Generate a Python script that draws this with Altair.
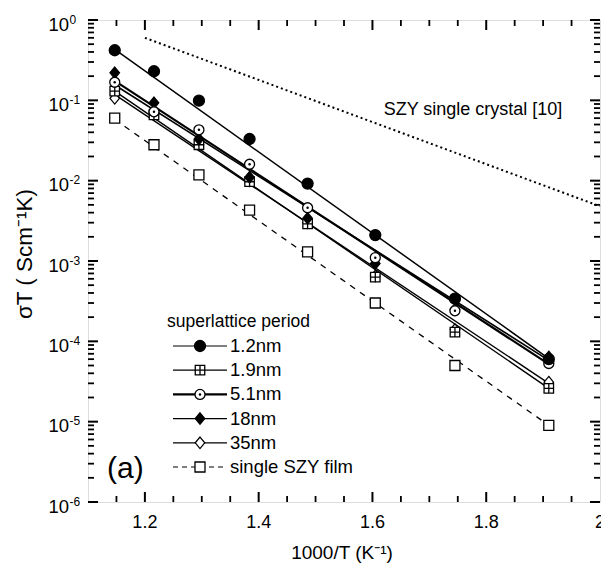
import altair as alt
import pandas as pd
import numpy as np

# 1000/T values (K^-1) at which conductivity was measured
inv_T = [1.147, 1.216, 1.295, 1.384, 1.486, 1.605, 1.745, 1.910]

series_names = ["1.2nm", "1.9nm", "5.1nm", "18nm", "35nm", "single SZY film"]

# sigma*T (S cm^-1 K) for each superlattice period and the single film
sig_1p2 = [0.42, 0.23, 0.099, 0.033, 0.0092, 0.0021, 3.4e-4, 6.0e-5]
sig_1p9 = [0.13, 0.066, 0.028, 0.0097, 0.0029, 6.3e-4, 1.3e-4, 2.6e-5]
sig_5p1 = [0.168, 0.072, 0.043, 0.016, 0.0046, 0.0011, 2.4e-4, 5.3e-5]
sig_18 = [0.22, 0.093, 0.033, 0.011, 0.0034, 0.00093, 2.5e-4, 6.4e-5]
sig_35 = [0.106, 0.067, 0.028, 0.0100, 0.0030, 6.5e-4, 1.4e-4, 3.1e-5]
sig_film = [0.060, 0.028, 0.0118, 0.0043, 0.0013, 3.0e-4, 5.0e-5, 9.0e-6]

# Arrhenius fit lines: values at the first and last 1000/T
fit_x = [1.147, 1.910]
fit_1p2 = [0.43, 6.1e-5]
fit_1p9 = [0.13, 2.6e-5]
fit_5p1 = [0.175, 5.2e-5]
fit_18 = [0.155, 5.8e-5]
fit_35 = [0.118, 3.0e-5]
fit_film = [0.058, 9.0e-6]

# SZY single crystal reference line [10]
crystal_x = [1.2, 2.0]
crystal_sigT = [0.60, 0.0048]

# axis labels
x_tick_values = [1.2, 1.4, 1.6, 1.8, 2.0]
x_tick_labels = ["1.2", "1.4", "1.6", "1.8", "2"]
y_tick_values = [1.0, 1e-1, 1e-2, 1e-3, 1e-4, 1e-5, 1e-6]
y_tick_exponents = ["0", "-1", "-2", "-3", "-4", "-5", "-6"]

W, H = 512, 482
FONT = "Liberation Sans"

xs = alt.Scale(domain=[1.1, 2.0], nice=False, zero=False)
ys = alt.Scale(type="log", domain=[1e-6, 1], nice=False)

def X(field="x"):
    return alt.X(f"{field}:Q", scale=xs, axis=None)

def Y(field="y"):
    return alt.Y(f"{field}:Q", scale=ys, axis=None)

point_values = [sig_1p2, sig_1p9, sig_5p1, sig_18, sig_35, sig_film]
fit_values = [fit_1p2, fit_1p9, fit_5p1, fit_18, fit_35, fit_film]

# marker styles
SQ_CROSS = "M-1,-1H1V1H-1Z M0,-1V1 M-1,0H1"
DIAMOND = "M0,-1.15L0.95,0L0,1.15L-0.95,0Z"
styles = {
    "1.2nm": dict(shape="circle", fill="black", size=121),
    "1.9nm": dict(shape=SQ_CROSS, fill="white", size=90),
    "5.1nm": dict(shape="circle", fill="white", size=100),
    "18nm": dict(shape=DIAMOND, fill="black", size=100),
    "35nm": dict(shape=DIAMOND, fill="white", size=100),
    "single SZY film": dict(shape="square", fill="white", size=100),
}
line_styles = {
    "1.2nm": dict(strokeWidth=1.5),
    "1.9nm": dict(strokeWidth=1.4),
    "5.1nm": dict(strokeWidth=2.2),
    "18nm": dict(strokeWidth=1.6),
    "35nm": dict(strokeWidth=1.4),
    "single SZY film": dict(strokeWidth=1.3, strokeDash=[6, 6]),
}

layers = []

# crystal reference (dotted)
crystal_df = pd.DataFrame({"x": crystal_x, "y": crystal_sigT})
layers.append(
    alt.Chart(crystal_df).mark_line(color="black", strokeWidth=2, strokeDash=[2, 3])
    .encode(x=X(), y=Y())
)

# fit lines
for name, fv in zip(series_names, fit_values):
    df = pd.DataFrame({"x": fit_x, "y": fv})
    layers.append(alt.Chart(df).mark_line(color="black", **line_styles[name]).encode(x=X(), y=Y()))

# measured points
draw_order = ["single SZY film", "35nm", "1.9nm", "18nm", "5.1nm", "1.2nm"]
for name in draw_order:
    vals = point_values[series_names.index(name)]
    st = styles[name]
    df = pd.DataFrame({"x": inv_T, "y": vals})
    layers.append(
        alt.Chart(df).mark_point(shape=st["shape"], filled=True, fill=st["fill"],
                                 stroke="black", strokeWidth=1.3, size=st["size"], opacity=1)
        .encode(x=X(), y=Y())
    )
    if name == "5.1nm":
        layers.append(
            alt.Chart(df).mark_point(shape="circle", filled=True, fill="black", size=6, opacity=1)
            .encode(x=X(), y=Y())
        )

# inward ticks on all four sides
x_minor = [round(v, 2) for v in np.arange(1.15, 2.0, 0.05) if round(v, 2) not in x_tick_values]
x_major = [1.2, 1.4, 1.6, 1.8]
y_major = [10.0 ** -k for k in range(0, 7)]
y_minor = [m * 10.0 ** d for d in range(-6, 0) for m in range(2, 10)]

def xticks(vals, length, width):
    df = pd.DataFrame({"v": vals})
    return [alt.Chart(df).mark_rule(color="black", strokeWidth=width)
            .encode(x=X("v"), y=alt.value(y0), y2=alt.value(y1))
            for y0, y1 in [(H, H - length), (0, length)]]

def yticks(vals, length, width):
    df = pd.DataFrame({"v": vals})
    return [alt.Chart(df).mark_rule(color="black", strokeWidth=width)
            .encode(y=Y("v"), x=alt.value(x0), x2=alt.value(x1))
            for x0, x1 in [(0, length), (W, W - length)]]

layers += xticks(x_major, 10, 2)
layers += xticks(x_minor, 6, 1.8)
layers += yticks(y_major, 10, 2)
layers += yticks(y_minor, 6, 1.8)

# tick labels
xl = pd.DataFrame({"v": x_tick_values, "t": x_tick_labels})
layers.append(alt.Chart(xl).mark_text(font=FONT, fontSize=18, align="center", baseline="alphabetic",
                                      color="black")
              .encode(x=X("v"), y=alt.value(H + 25.5), text="t:N"))
yl = pd.DataFrame({"v": y_tick_values, "e": y_tick_exponents, "b": ["10"] * len(y_tick_values)})
layers.append(alt.Chart(yl).mark_text(font=FONT, fontSize=18.5, align="right", baseline="alphabetic",
                                      color="black", dy=10.5)
              .encode(y=Y("v"), x=alt.value(-19), text="b:N"))
layers.append(alt.Chart(yl).mark_text(font=FONT, fontSize=12, align="left", baseline="alphabetic",
                                      color="black", dy=3.5)
              .encode(y=Y("v"), x=alt.value(-18.5), text="e:N"))

# axis titles
one = alt.Data(values=[{"t": 0}])
layers.append(alt.Chart(one).mark_text(text="1000/T (K⁻¹)", font=FONT, fontSize=19, align="center",
                                       baseline="alphabetic", color="black")
              .encode(x=alt.value(254), y=alt.value(H + 57)))
layers.append(alt.Chart(one).mark_text(text="σT (  Scm⁻¹K)", font=FONT, fontSize=22.5, align="center",
                                       baseline="middle", angle=270, color="black")
              .encode(x=alt.value(-63), y=alt.value(234)))

# annotations
layers.append(alt.Chart(one).mark_text(text="SZY single crystal [10]", font=FONT, fontSize=18,
                                       align="center", baseline="middle", color="black")
              .encode(x=alt.value(385), y=alt.value(90)))
layers.append(alt.Chart(one).mark_text(text="(a)", font=FONT, fontSize=30,
                                       align="left", baseline="middle", color="black")
              .encode(x=alt.value(19), y=alt.value(449)))

# legend
LX0, LX1, LXM, LXT = 85, 139, 112, 142
layers.append(alt.Chart(one).mark_text(text="superlattice period", font=FONT, fontSize=17.5,
                                       align="left", baseline="middle", color="black")
              .encode(x=alt.value(79), y=alt.value(302)))
for i, name in enumerate(series_names):
    yy = 326 + 24.2 * i
    st = styles[name]
    ls = dict(line_styles[name])
    if name == "single SZY film":
        ls["strokeDash"] = [5, 4]
        ls["strokeWidth"] = 1.2
    elif name == "5.1nm":
        ls["strokeWidth"] = 2.2
    else:
        ls["strokeWidth"] = 1.2
    layers.append(alt.Chart(one).mark_rule(color="black", **ls)
                  .encode(x=alt.value(LX0), x2=alt.value(LX1), y=alt.value(yy)))
    layers.append(alt.Chart(one).mark_point(shape=st["shape"], filled=True, fill=st["fill"],
                                            stroke="black", strokeWidth=1.3, size=st["size"], opacity=1)
                  .encode(x=alt.value(LXM), y=alt.value(yy)))
    if name == "5.1nm":
        layers.append(alt.Chart(one).mark_point(shape="circle", filled=True, fill="black", size=6, opacity=1)
                      .encode(x=alt.value(LXM), y=alt.value(yy)))
    layers.append(alt.Chart(one).mark_text(text=name, font=FONT, fontSize=18.5, align="left",
                                           baseline="middle", color="black")
                  .encode(x=alt.value(LXT), y=alt.value(yy)))

chart = (
    alt.layer(*layers)
    .properties(width=W, height=H, autosize=alt.AutoSizeParams(type="none"),
                padding={"left": 88, "top": 20, "right": 1, "bottom": 63})
    .configure_view(stroke="black", strokeWidth=2)
    .configure(font=FONT, background="white")
)

chart.save("out.html", embed_options={"renderer": "svg", "actions": False})
